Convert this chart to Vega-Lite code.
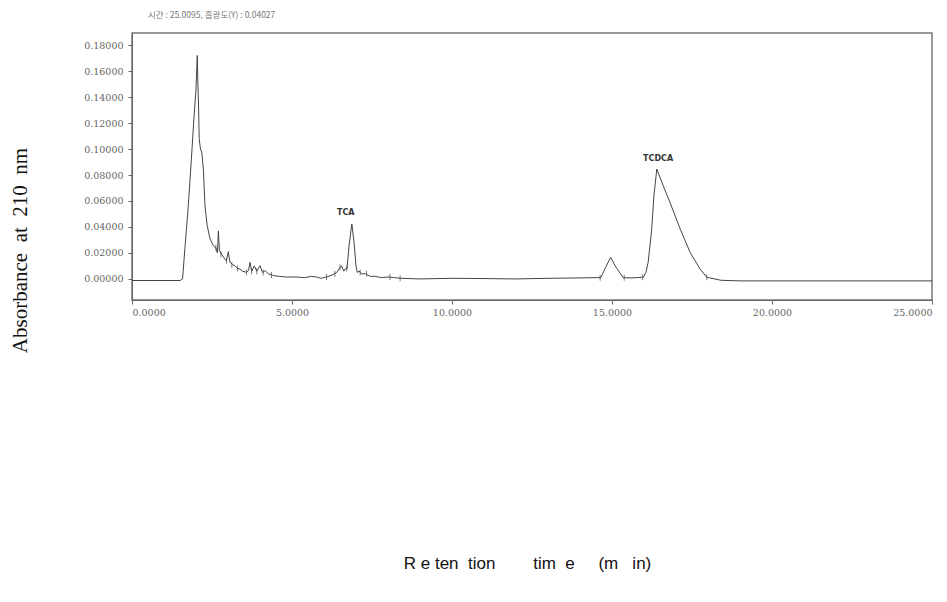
{
  "$schema": "https://vega.github.io/schema/vega-lite/v6.json",
  "width": 800,
  "height": 267,
  "autosize": {"type": "none"},
  "padding": {"left": 132, "top": 33, "right": 15, "bottom": 302},
  "background": "white",
  "title": {
    "text": "시간 : 25.0095, 흡광도(Y) : 0.04027",
    "anchor": "start",
    "frame": "group",
    "dx": 16,
    "offset": 14,
    "fontSize": 8.5,
    "fontWeight": "normal",
    "color": "#777",
    "font": "Noto Sans CJK KR"
  },
  "config": {
    "view": {"stroke": "#777", "strokeWidth": 1.5},
    "axis": {
      "grid": false,
      "labelFont": "DejaVu Serif",
      "labelFontSize": 9.5,
      "labelColor": "#666",
      "labelOverlap": false,
      "tickColor": "#666",
      "domainColor": "#666",
      "tickSize": 4
    }
  },
  "datasets": {
    "trace": [
      {"t": 0, "v": -0.0012}, {"t": 1.0, "v": -0.0012}, {"t": 1.5, "v": -0.0012},
      {"t": 1.58, "v": 0.0}, {"t": 1.66, "v": 0.0256}, {"t": 1.76, "v": 0.0564},
      {"t": 1.87, "v": 0.0977}, {"t": 1.94, "v": 0.1256}, {"t": 2.0, "v": 0.146},
      {"t": 2.04, "v": 0.172}, {"t": 2.06, "v": 0.15}, {"t": 2.08, "v": 0.133},
      {"t": 2.1, "v": 0.108}, {"t": 2.14, "v": 0.1}, {"t": 2.18, "v": 0.0977},
      {"t": 2.23, "v": 0.0846}, {"t": 2.28, "v": 0.0564}, {"t": 2.35, "v": 0.041},
      {"t": 2.44, "v": 0.0308}, {"t": 2.54, "v": 0.0256}, {"t": 2.62, "v": 0.024},
      {"t": 2.67, "v": 0.02}, {"t": 2.7, "v": 0.037}, {"t": 2.73, "v": 0.022},
      {"t": 2.8, "v": 0.019}, {"t": 2.88, "v": 0.016}, {"t": 2.95, "v": 0.014},
      {"t": 3.01, "v": 0.021}, {"t": 3.06, "v": 0.013}, {"t": 3.14, "v": 0.011},
      {"t": 3.22, "v": 0.0102}, {"t": 3.3, "v": 0.008}, {"t": 3.375, "v": 0.0077},
      {"t": 3.45, "v": 0.006}, {"t": 3.58, "v": 0.0051}, {"t": 3.64, "v": 0.0065},
      {"t": 3.69, "v": 0.0128}, {"t": 3.74, "v": 0.006}, {"t": 3.82, "v": 0.01},
      {"t": 3.9, "v": 0.006}, {"t": 4.0, "v": 0.0102}, {"t": 4.08, "v": 0.005},
      {"t": 4.16, "v": 0.0064}, {"t": 4.26, "v": 0.004}, {"t": 4.42, "v": 0.0026},
      {"t": 4.6, "v": 0.002}, {"t": 4.8, "v": 0.0015}, {"t": 5.15, "v": 0.0015},
      {"t": 5.4, "v": 0.001}, {"t": 5.6, "v": 0.002}, {"t": 5.77, "v": 0.0015},
      {"t": 5.9, "v": 0.0005}, {"t": 6.08, "v": 0.0015}, {"t": 6.25, "v": 0.003},
      {"t": 6.4, "v": 0.005}, {"t": 6.5, "v": 0.009}, {"t": 6.55, "v": 0.01},
      {"t": 6.62, "v": 0.006}, {"t": 6.66, "v": 0.0077}, {"t": 6.72, "v": 0.008},
      {"t": 6.78, "v": 0.025}, {"t": 6.87, "v": 0.0423}, {"t": 6.94, "v": 0.028},
      {"t": 7.0, "v": 0.01}, {"t": 7.04, "v": 0.005}, {"t": 7.1, "v": 0.006},
      {"t": 7.18, "v": 0.0038}, {"t": 7.3, "v": 0.004}, {"t": 7.45, "v": 0.002},
      {"t": 7.6, "v": 0.002}, {"t": 7.8, "v": 0.001}, {"t": 8.0, "v": 0.0015},
      {"t": 8.2, "v": 0.001}, {"t": 8.4, "v": 0.0005}, {"t": 9.0, "v": 0.0},
      {"t": 10.0, "v": 0.0005}, {"t": 11.0, "v": 0.0003}, {"t": 12.0, "v": 0.0},
      {"t": 13.0, "v": 0.0005}, {"t": 14.0, "v": 0.0008}, {"t": 14.5, "v": 0.001},
      {"t": 14.65, "v": 0.001}, {"t": 14.8, "v": 0.009}, {"t": 14.96, "v": 0.0167},
      {"t": 15.1, "v": 0.01}, {"t": 15.35, "v": 0.001}, {"t": 15.6, "v": 0.0008},
      {"t": 15.98, "v": 0.0013}, {"t": 16.06, "v": 0.005}, {"t": 16.13, "v": 0.0128},
      {"t": 16.24, "v": 0.038}, {"t": 16.31, "v": 0.064}, {"t": 16.4, "v": 0.0846},
      {"t": 16.6, "v": 0.0718}, {"t": 16.81, "v": 0.059}, {"t": 17.13, "v": 0.0385},
      {"t": 17.44, "v": 0.0205}, {"t": 17.75, "v": 0.0077}, {"t": 17.96, "v": 0.0013},
      {"t": 18.4, "v": -0.001}, {"t": 19.0, "v": -0.0015}, {"t": 25.0, "v": -0.0015}
    ],
    "marks": [
      {"t": 2.62, "v": 0.024}, {"t": 2.78, "v": 0.019}, {"t": 2.95, "v": 0.014},
      {"t": 3.12, "v": 0.011}, {"t": 3.3, "v": 0.008}, {"t": 3.58, "v": 0.0051},
      {"t": 3.74, "v": 0.006}, {"t": 3.9, "v": 0.006}, {"t": 4.1, "v": 0.005},
      {"t": 4.36, "v": 0.003}, {"t": 6.08, "v": 0.0015}, {"t": 6.34, "v": 0.004},
      {"t": 6.5, "v": 0.009}, {"t": 6.71, "v": 0.008}, {"t": 7.13, "v": 0.005},
      {"t": 7.33, "v": 0.004}, {"t": 8.06, "v": 0.0015}, {"t": 8.38, "v": 0.0005},
      {"t": 14.63, "v": 0.001}, {"t": 15.38, "v": 0.001}, {"t": 15.96, "v": 0.0013},
      {"t": 17.96, "v": 0.0013}
    ],
    "peaks": [
      {"t": 6.68, "v": 0.051, "name": "TCA"},
      {"t": 16.44, "v": 0.092, "name": "TCDCA"}
    ]
  },
  "encoding": {
    "x": {
      "field": "t",
      "type": "quantitative",
      "scale": {"domain": [0, 25], "nice": false, "zero": false},
      "axis": {
        "values": [0, 5, 10, 15, 20, 25],
        "format": ".4f",
        "labelPadding": 3,
        "labelOverlap": false,
        "title": "R\u00a0e\u00a0ten\u00a0\u00a0tion\u00a0\u00a0\u00a0\u00a0\u00a0\u00a0\u00a0\u00a0tim\u00a0\u00a0e\u00a0\u00a0\u00a0\u00a0\u00a0(m\u00a0\u00a0\u00a0in)",
        "titleFont": "Liberation Sans",
        "titleFontSize": 17,
        "titleFontWeight": "normal",
        "titleColor": "#111",
        "titleX": 395,
        "titleY": 263,
        "titleBaseline": "middle"
      }
    },
    "y": {
      "field": "v",
      "type": "quantitative",
      "scale": {"domain": [-0.0162, 0.1893], "nice": false, "zero": false},
      "axis": {
        "values": [0, 0.02, 0.04, 0.06, 0.08, 0.1, 0.12, 0.14, 0.16, 0.18],
        "format": ".5f",
        "labelPadding": 5,
        "labelOverlap": false,
        "title": "Absorbance\u00a0\u00a0at\u00a0\u00a0210\u00a0\u00a0nm",
        "titleFont": "Liberation Serif",
        "titleFontSize": 21,
        "titleFontWeight": "normal",
        "titleColor": "#111",
        "titleX": -112,
        "titleY": 217,
        "titleAlign": "center",
        "titleBaseline": "middle"
      }
    }
  },
  "layer": [
    {
      "data": {"name": "trace"},
      "mark": {"type": "line", "color": "#444", "strokeWidth": 1, "clip": true}
    },
    {
      "data": {"name": "marks"},
      "mark": {"type": "tick", "orient": "vertical", "size": 6, "thickness": 1, "color": "#444"}
    },
    {
      "data": {"name": "peaks"},
      "mark": {"type": "text", "font": "DejaVu Sans", "fontSize": 8, "fontWeight": "bold", "color": "#333", "baseline": "middle"},
      "encoding": {
        "text": {"field": "name"}
      }
    }
  ]
}
